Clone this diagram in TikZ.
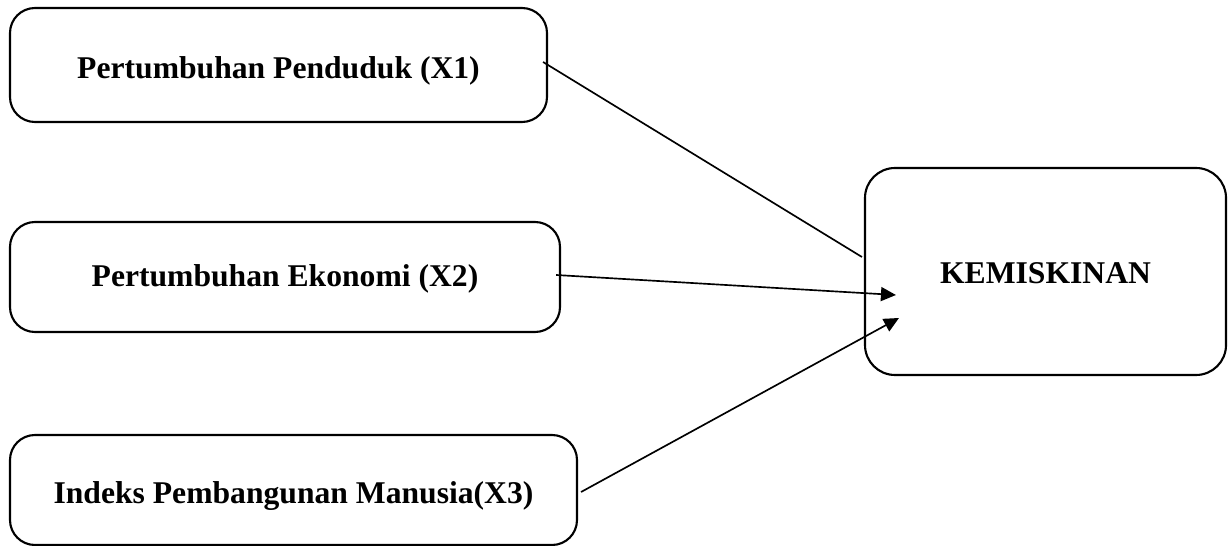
\documentclass[tikz,border=0pt]{standalone}
\usepackage{fontspec}
\setmainfont{Liberation Serif}
\usetikzlibrary{arrows.meta, calc}
\newcommand{\dropby}[2]{\raisebox{-#1}[\height][\depth]{#2}}

\begin{document}
\begin{tikzpicture}[varbox/.style={draw,line width=1.2pt,rounded corners=0.5cm,font=\fontsize{18}{21}\selectfont\bfseries,align=center},
  link/.style={line width=0.95pt},
  arr/.style={line width=0.95pt,-{Triangle[length=0.3cm,width=0.28cm]}}]
  \useasboundingbox (0,0) rectangle (24.6,-10.92);
  \path (5.57,-1.30) node[varbox,minimum width=10.74cm,minimum height=2.28cm] (x1) {\dropby{3.4pt}{Pertumbuhan Penduduk (X1)}}
  (5.70,-5.54) node[varbox,minimum width=11cm,minimum height=2.2cm] (x2) {\dropby{1.2pt}{Pertumbuhan Ekonomi (X2)}}
  (5.87,-9.80) node[varbox,minimum width=11.34cm,minimum height=2.2cm] (x3) {\dropby{3.4pt}{Indeks Pembangunan Manusia(X3)}}
  (20.91,-5.43) node[varbox,rounded corners=0.6cm,minimum width=7.22cm,minimum height=4.14cm] (y) {\dropby{1.2pt}{KEMISKINAN}};
  \draw[link] ([xshift=-0.1cm,yshift=0.06cm]x1.east) -- ([xshift=-0.04cm,yshift=0.29cm]y.west);
  \draw[arr] ([xshift=-0.1cm,yshift=0.04cm]x2.east) -- ([xshift=0.64cm,yshift=-0.47cm]y.west);
  \draw[arr] ([xshift=0.06cm,yshift=-0.04cm]x3.east) -- ([xshift=0.7cm,yshift=-0.93cm]y.west);
  \end{tikzpicture}
\end{document}
